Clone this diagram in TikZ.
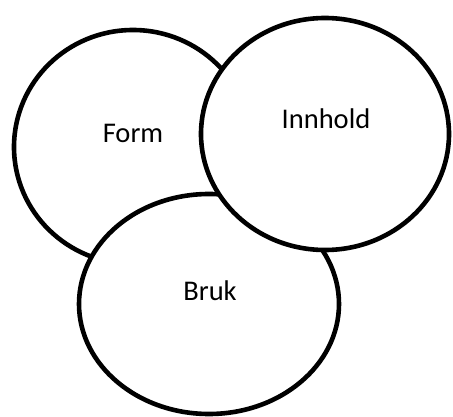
\documentclass[tikz,border=0pt]{standalone}
\usepackage{fontspec}
\setmainfont{Carlito}
\begin{document}
\begin{tikzpicture}[x=1pt,y=-1pt,
  blob/.style={draw=black,fill=white,line width=4.6pt},
  lbl/.style={anchor=base,inner sep=0pt,font=\fontsize{28.5}{34}\selectfont}]
  \useasboundingbox (0,0) rectangle (453,417);
  % three overlapping ellipses, back to front
  \draw[blob] (133,147) ellipse [x radius=119, y radius=117];
  \draw[blob] (209,304) ellipse [x radius=130, y radius=110];
  \draw[blob] (325,134) ellipse [x radius=124, y radius=116];
  % labels
  \node[lbl] (form) at (133,143) {Form};
  \node[lbl] (innhold) at (326,129) {Innhold};
  \node[lbl] (bruk) at (210,301) {Bruk};
\end{tikzpicture}
\end{document}
